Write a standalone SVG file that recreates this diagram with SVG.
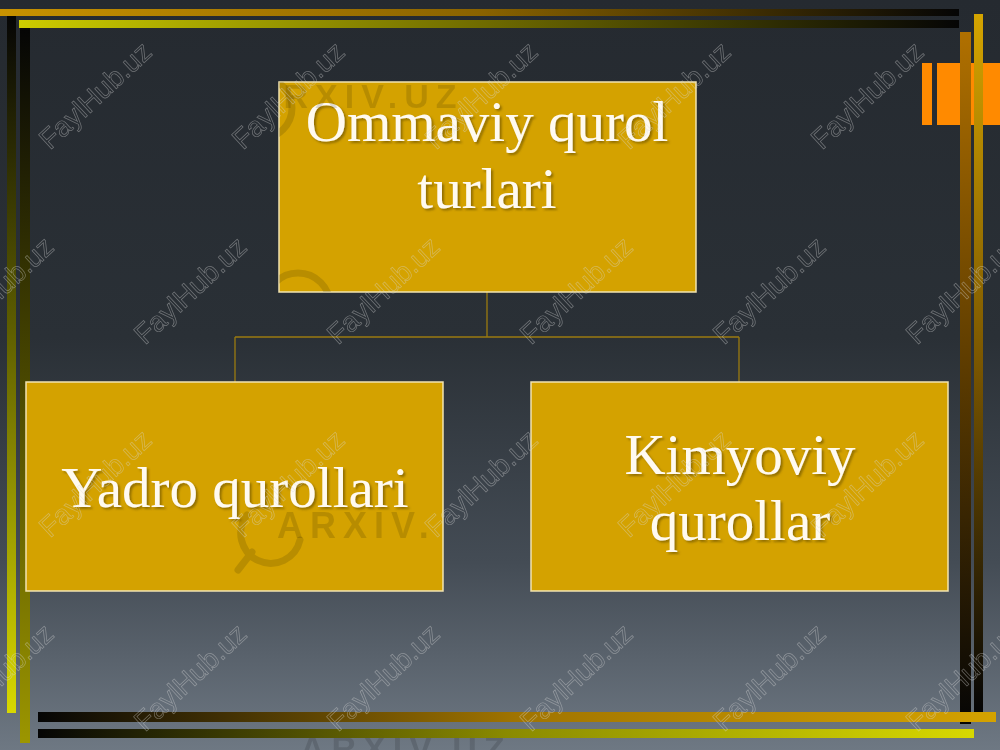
<svg xmlns="http://www.w3.org/2000/svg" width="1000" height="750" viewBox="0 0 1000 750">
  <defs>
    <linearGradient id="bg" x1="0" y1="0" x2="0" y2="1">
      <stop offset="0" stop-color="#252a30"/>
      <stop offset="0.45" stop-color="#2a3036"/>
      <stop offset="0.75" stop-color="#444c55"/>
      <stop offset="1" stop-color="#6e7883"/>
    </linearGradient>
    <linearGradient id="top1" x1="0" y1="0" x2="1" y2="0">
      <stop offset="0" stop-color="#c89200"/>
      <stop offset="0.5" stop-color="#8a6300"/>
      <stop offset="1" stop-color="#050505"/>
    </linearGradient>
    <linearGradient id="top2" x1="0" y1="0" x2="1" y2="0">
      <stop offset="0" stop-color="#cccc00"/>
      <stop offset="0.5" stop-color="#6e6a00"/>
      <stop offset="1" stop-color="#050505"/>
    </linearGradient>
    <linearGradient id="bot1" x1="0" y1="0" x2="1" y2="0">
      <stop offset="0" stop-color="#050505"/>
      <stop offset="0.5" stop-color="#a07400"/>
      <stop offset="1" stop-color="#d4a200"/>
    </linearGradient>
    <linearGradient id="bot2" x1="0" y1="0" x2="1" y2="0">
      <stop offset="0" stop-color="#050505"/>
      <stop offset="0.5" stop-color="#8a8a00"/>
      <stop offset="1" stop-color="#d8d800"/>
    </linearGradient>
    <linearGradient id="left1" x1="0" y1="0" x2="0" y2="1">
      <stop offset="0" stop-color="#050505"/>
      <stop offset="0.45" stop-color="#5e5e00"/>
      <stop offset="1" stop-color="#d8d800"/>
    </linearGradient>
    <linearGradient id="left2" x1="0" y1="0" x2="0" y2="1">
      <stop offset="0" stop-color="#050505"/>
      <stop offset="0.5" stop-color="#4a4800"/>
      <stop offset="1" stop-color="#9c9600"/>
    </linearGradient>
    <linearGradient id="right1" x1="0" y1="0" x2="0" y2="1">
      <stop offset="0" stop-color="#b07000"/>
      <stop offset="0.5" stop-color="#5a3a00"/>
      <stop offset="1" stop-color="#050505"/>
    </linearGradient>
    <linearGradient id="right2" x1="0" y1="0" x2="0" y2="1">
      <stop offset="0" stop-color="#d4a400"/>
      <stop offset="0.5" stop-color="#7a5600"/>
      <stop offset="1" stop-color="#050505"/>
    </linearGradient>
    <clipPath id="boxclip">
      <rect x="279" y="82" width="417" height="210"/>
      <rect x="26" y="382" width="417" height="209"/>
      <rect x="531" y="382" width="417" height="209"/>
      <rect x="0" y="738" width="1000" height="12"/>
    </clipPath>
    <filter id="shadow" x="-10%" y="-20%" width="120%" height="140%">
      <feDropShadow dx="2" dy="2" stdDeviation="1" flood-color="#5a4500" flood-opacity="0.55"/>
    </filter>
    <style>
      .box { fill: #d4a200; stroke: #f2e4b0; stroke-width: 1.5; }
      .lbl { font-family: "Liberation Serif", "Times New Roman", serif; font-size: 57px; fill: #fffaf0; text-anchor: middle; filter: url(#shadow); }
      .conn { fill: none; stroke: #9a7a10; stroke-width: 1.3; }
      .wm { font-family: "Liberation Sans", Arial, sans-serif; font-size: 28px; fill: none; stroke: #d8d8d8; stroke-width: 0.7; opacity: 0.42; text-anchor: middle; }
      .ax { font-family: "Liberation Sans", Arial, sans-serif; font-weight: bold; fill: #000000; opacity: 0.13; letter-spacing: 7px; }
      .axl { fill: none; stroke: #000000; stroke-width: 7; opacity: 0.13; stroke-linecap: round; }
    </style>
  </defs>

  <!-- background -->
  <rect x="0" y="0" width="1000" height="750" fill="url(#bg)"/>

  <!-- decorative frame -->
  <g id="frame">
    <rect x="922" y="63" width="10" height="62" fill="#ff8a00"/>
    <rect x="937" y="63" width="63" height="62" fill="#ff8a00"/>
    <rect x="7" y="16" width="9" height="697" fill="url(#left1)"/>
    <rect x="20" y="28" width="10" height="715" fill="url(#left2)"/>
    <rect x="960" y="32" width="11" height="692" fill="url(#right1)"/>
    <rect x="974" y="14" width="9" height="698" fill="url(#right2)"/>
    <rect x="0" y="9" width="959" height="7" fill="url(#top1)"/>
    <rect x="19" y="20" width="940" height="8" fill="url(#top2)"/>
    <rect x="38" y="712" width="958" height="10" fill="url(#bot1)"/>
    <rect x="38" y="729" width="936" height="9" fill="url(#bot2)"/>
  </g>

  <!-- connectors -->
  <g id="connectors">
    <path class="conn" d="M487 292 V337 M235 337 H739 M235 337 V382 M739 337 V382"/>
  </g>

  <!-- nodes -->
  <g id="node-root">
    <rect class="box" x="279" y="82" width="417" height="210"/>
    <text class="lbl" x="487" y="141">Ommaviy qurol</text>
    <text class="lbl" x="487" y="208">turlari</text>
  </g>
  <g id="node-yadro">
    <rect class="box" x="26" y="382" width="417" height="209"/>
    <text class="lbl" x="235" y="507">Yadro qurollari</text>
  </g>
  <g id="node-kimyoviy">
    <rect class="box" x="531" y="382" width="417" height="209"/>
    <text class="lbl" x="740" y="474">Kimyoviy</text>
    <text class="lbl" x="740" y="540">qurollar</text>
  </g>

  <!-- watermarks -->
  <g id="watermarks">
    <g clip-path="url(#boxclip)">
      <text class="ax" x="252" y="108" font-size="34">ARXIV.UZ</text>
      <circle class="axl" cx="262" cy="108" r="30"/>
      <circle class="axl" cx="298" cy="305" r="32"/>
      <text class="ax" x="277" y="538" font-size="36">ARXIV.</text>
      <path class="axl" d="M247 515 A30 30 0 1 0 300 540 M252 552 L238 570"/>
      <text class="ax" x="300" y="760" font-size="34">ARXIV.UZ</text>
    </g>

    <text class="wm" transform="translate(95 95) rotate(-43)" y="10">FaylHub.uz</text>
    <text class="wm" transform="translate(288 95) rotate(-43)" y="10">FaylHub.uz</text>
    <text class="wm" transform="translate(481 95) rotate(-43)" y="10">FaylHub.uz</text>
    <text class="wm" transform="translate(674 95) rotate(-43)" y="10">FaylHub.uz</text>
    <text class="wm" transform="translate(867 95) rotate(-43)" y="10">FaylHub.uz</text>

    <text class="wm" transform="translate(-3 290) rotate(-43)" y="10">FaylHub.uz</text>
    <text class="wm" transform="translate(190 290) rotate(-43)" y="10">FaylHub.uz</text>
    <text class="wm" transform="translate(383 290) rotate(-43)" y="10">FaylHub.uz</text>
    <text class="wm" transform="translate(576 290) rotate(-43)" y="10">FaylHub.uz</text>
    <text class="wm" transform="translate(769 290) rotate(-43)" y="10">FaylHub.uz</text>
    <text class="wm" transform="translate(962 290) rotate(-43)" y="10">FaylHub.uz</text>

    <text class="wm" transform="translate(95 483) rotate(-43)" y="10">FaylHub.uz</text>
    <text class="wm" transform="translate(288 483) rotate(-43)" y="10">FaylHub.uz</text>
    <text class="wm" transform="translate(481 483) rotate(-43)" y="10">FaylHub.uz</text>
    <text class="wm" transform="translate(674 483) rotate(-43)" y="10">FaylHub.uz</text>
    <text class="wm" transform="translate(867 483) rotate(-43)" y="10">FaylHub.uz</text>

    <text class="wm" transform="translate(-3 677) rotate(-43)" y="10">FaylHub.uz</text>
    <text class="wm" transform="translate(190 677) rotate(-43)" y="10">FaylHub.uz</text>
    <text class="wm" transform="translate(383 677) rotate(-43)" y="10">FaylHub.uz</text>
    <text class="wm" transform="translate(576 677) rotate(-43)" y="10">FaylHub.uz</text>
    <text class="wm" transform="translate(769 677) rotate(-43)" y="10">FaylHub.uz</text>
    <text class="wm" transform="translate(962 677) rotate(-43)" y="10">FaylHub.uz</text>
  </g>
</svg>
